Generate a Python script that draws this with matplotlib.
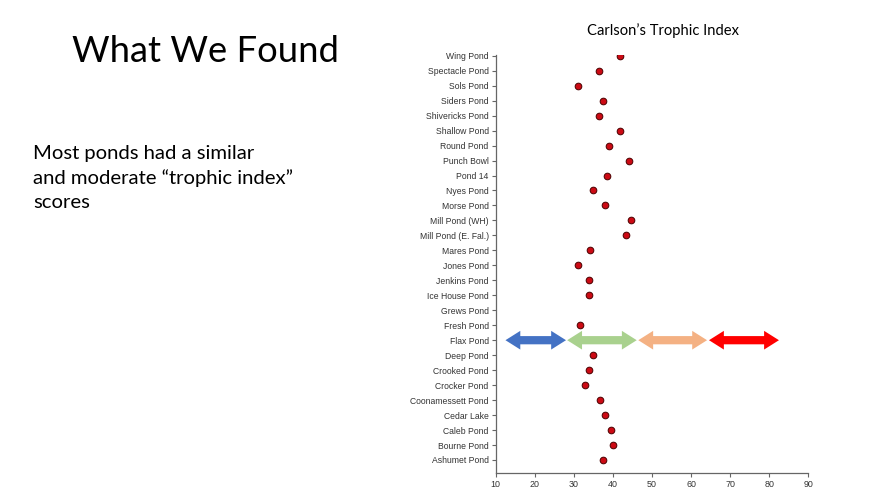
import matplotlib
matplotlib.use('Agg')
import matplotlib.pyplot as plt
from matplotlib.patches import Polygon
import numpy as np

# ponds, top to bottom as shown on the slide
ponds = ['Wing Pond', 'Spectacle Pond', 'Sols Pond', 'Siders Pond', 'Shivericks Pond',
         'Shallow Pond', 'Round Pond', 'Punch Bowl', 'Pond 14', 'Nyes Pond', 'Morse Pond',
         'Mill Pond (WH)', 'Mill Pond (E. Fal.)', 'Mares Pond', 'Jones Pond', 'Jenkins Pond',
         'Ice House Pond', 'Grews Pond', 'Fresh Pond', 'Flax Pond', 'Deep Pond',
         'Crooked Pond', 'Crocker Pond', 'Coonamessett Pond', 'Cedar Lake', 'Caleb Pond',
         'Bourne Pond', 'Ashumet Pond']
tsi = [41.9, 36.4, 31.1, 37.5, 36.4,
       41.7, 39.0, 44.1, 38.4, 35.0, 38.0,
       44.7, 43.3, 34.1, 31.0, 34.0,
       34.0, np.nan, 31.5, np.nan, 35.0,
       33.8, 32.8, 36.6, 38.0, 39.5,
       40.0, 37.5]

# trophic range arrows drawn across the Flax Pond row
band_start = [12.5, 28.3, 46.5, 64.6]
band_end = [28.0, 46.1, 64.1, 82.5]
band_colors = ['#4472C4', '#A9D18E', '#F4B183', '#FF0000']
xticks = [10, 20, 30, 40, 50, 60, 70, 80, 90]


def double_arrow(x0, x1, y, w=0.275, h=0.625, L=3.8):
    return [(x0, y), (x0 + L, y + h), (x0 + L, y + w), (x1 - L, y + w), (x1 - L, y + h),
            (x1, y), (x1 - L, y - h), (x1 - L, y - w), (x0 + L, y - w), (x0 + L, y - h)]


fig = plt.figure(figsize=(8.88, 5), dpi=100)
fig.patch.set_facecolor('white')

fig.text(0.231, 0.896, 'What We Found', fontsize=26.2, family='Lato', ha='center', va='center')
fig.text(0.037, 0.71, 'Most ponds had a similar\nand moderate \u201ctrophic index\u201d\nscores',
         fontsize=14.6, family='Lato', ha='left', va='top', linespacing=1.48)

ax = fig.add_axes([0.5582, 0.054, 0.352, 0.836])
n = len(ponds)
ypos = np.arange(n)[::-1]

flax = ypos[ponds.index('Flax Pond')]
for x0, x1, c in zip(band_start, band_end, band_colors):
    ax.add_patch(Polygon(double_arrow(x0, x1, flax), closed=True, facecolor=c,
                         edgecolor='none', zorder=2))

ax.plot(tsi, ypos, 'o', color='#CC0A14', markeredgecolor='#4a0000',
        markeredgewidth=0.7, markersize=4.8, zorder=3)

ax.set_xlim(10, 90)
ax.set_ylim(-0.87, n - 1 + 0.05)
ax.set_yticks(ypos)
ax.set_yticklabels(ponds, family='Liberation Sans', fontsize=6.2, color='#333333')
ax.set_xticks(xticks)
ax.set_xticklabels([str(t) for t in xticks], family='Liberation Sans', fontsize=6.4,
                   color='#333333')
ax.tick_params(axis='both', length=3, width=0.8, color='#666666', pad=2)
for s in ['top', 'right']:
    ax.spines[s].set_visible(False)
for s in ['left', 'bottom']:
    ax.spines[s].set_color('#666666')
    ax.spines[s].set_linewidth(0.9)

fig.text(0.747, 0.938, 'Carlson\u2019s Trophic Index', fontsize=10.6, family='Lato',
         ha='center', va='center')

plt.savefig('out.png', dpi=100)
